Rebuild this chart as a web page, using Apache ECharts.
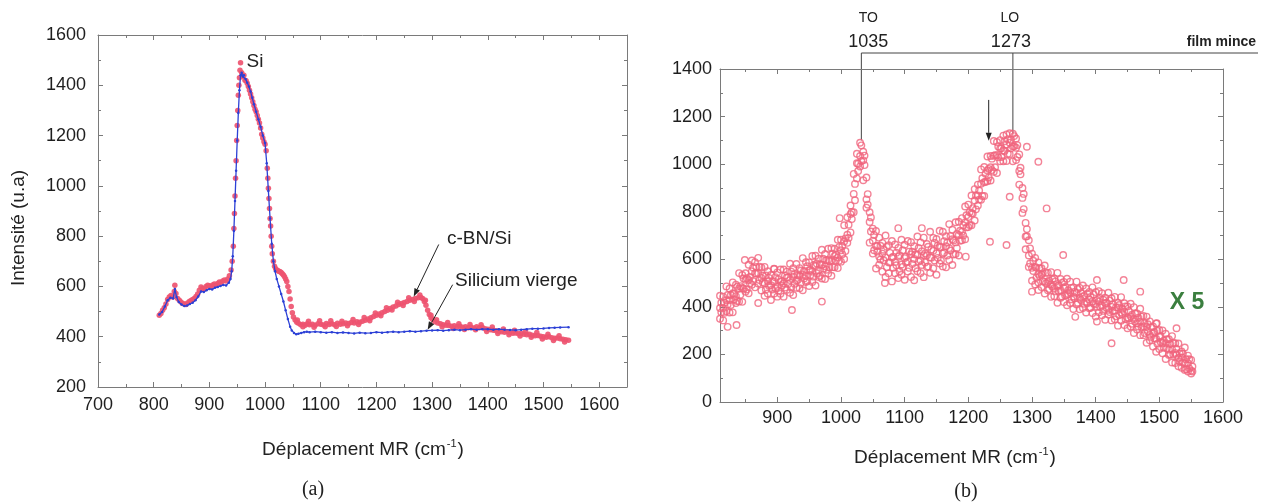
<!DOCTYPE html>
<html><head><meta charset="utf-8">
<script src="https://cdn.jsdelivr.net/npm/echarts@6/dist/echarts.min.js"></script>
<style>html,body{margin:0;padding:0;background:#fff}#c{width:1266px;height:504px}</style>
</head><body><div id="c"></div>
<script>
// ---------- (a) c-BN/Si (red dots) ----------
const xRed = [810,813,816,819,822,825,828,831,834,837,838,840,843,846,849,852,855,858,861,864,867,870,873,876,879,882,885,888,891,894,897,900,903,906,909,912,915,918,921,924,927,930,933,936,939,941,943,944,945,946,947,948,949,950,951,952,953,954,955,956,958,960,962,964,966,968,970,972,974,976,978,980,982,984,986,988,990,992,994,996,998,1000,1002,1004,1005,1006,1007,1008,1009,1010,1011,1012,1013,1015,1017,1019,1021,1023,1025,1027,1029,1031,1033,1035,1037,1039,1041,1043,1045,1047,1049,1051,1054,1057,1060,1064,1068,1072,1076,1080,1085,1090,1095,1100,1105,1110,1115,1120,1125,1130,1135,1140,1145,1150,1155,1160,1165,1170,1175,1180,1185,1190,1195,1200,1205,1210,1215,1220,1225,1230,1235,1240,1245,1250,1255,1260,1265,1270,1275,1280,1283,1286,1289,1292,1295,1298,1301,1305,1310,1315,1320,1325,1330,1335,1340,1345,1350,1355,1360,1365,1370,1375,1380,1385,1390,1395,1400,1405,1410,1415,1420,1425,1430,1435,1440,1445,1450,1455,1460,1465,1470,1475,1480,1485,1490,1495,1500,1505,1510,1515,1520,1525,1530,1535,1540,1545];
const yRed = [485,492,505,515,530,548,558,564,558,580,605,572,552,545,538,532,530,528,534,540,544,548,552,560,570,585,598,592,590,600,605,603,598,606,610,604,612,618,615,622,626,622,630,642,665,700,760,830,890,960,1030,1100,1180,1240,1300,1360,1400,1430,1460,1490,1450,1435,1440,1420,1418,1408,1395,1380,1365,1350,1335,1320,1305,1295,1280,1265,1250,1230,1205,1190,1175,1165,1140,1070,1030,990,950,910,870,840,800,760,730,700,680,670,665,662,660,658,655,650,645,638,630,620,600,580,550,520,495,478,466,458,454,448,450,446,452,448,450,446,452,450,447,453,449,452,448,454,450,452,455,453,457,455,460,458,462,465,470,475,480,485,490,495,500,505,512,518,522,528,532,536,540,545,548,552,555,556,552,540,525,505,488,475,468,460,455,452,448,446,445,442,444,440,442,438,440,436,438,435,440,436,438,432,430,428,426,424,422,420,418,420,416,414,415,412,414,410,408,410,406,404,405,402,400,398,400,396,394,395,392,390,388,386];
// second row of red dots where the c-BN/Si band is thick
const xRed2 = [1058,1068,1078,1088,1098,1108,1118,1128,1138,1148,1158,1168,1178,1188,1198,1208,1218,1228,1238,1248,1258,1268,1278,1288,1298,1308,1318,1328,1338,1348,1358,1368,1378,1388,1398,1408,1418,1428,1438,1448,1458,1468,1478,1488,1498,1508,1518,1528,1538];
const yRed2 = [466,440,462,438,463,440,463,441,462,444,468,449,476,463,494,483,515,506,537,524,555,540,566,545,485,467,440,457,433,452,429,449,428,448,421,439,413,431,408,426,403,421,398,417,391,410,385,404,379];

// ---------- (a) Silicium vierge (blue line) ----------
const xBlue = [810,815,820,825,830,835,838,841,845,850,855,860,865,870,875,880,885,890,895,900,905,910,915,920,925,930,935,938,940,942,944,946,948,950,952,954,956,958,960,962,965,968,971,974,977,980,984,988,992,996,1000,1003,1006,1009,1012,1015,1018,1021,1025,1029,1033,1037,1041,1045,1048,1052,1056,1060,1065,1070,1075,1080,1090,1100,1110,1120,1130,1140,1150,1160,1170,1180,1190,1200,1210,1220,1230,1240,1250,1260,1270,1280,1290,1300,1310,1320,1330,1340,1350,1360,1370,1380,1390,1400,1410,1420,1430,1440,1450,1460,1470,1480,1490,1500,1510,1520,1530,1545];
const yBlue = [488,498,520,545,555,552,590,558,538,528,522,524,530,535,545,560,580,578,585,590,588,595,598,602,606,604,615,630,660,720,820,940,1060,1180,1290,1380,1440,1450,1435,1440,1425,1410,1395,1375,1350,1325,1295,1265,1235,1200,1170,1090,980,870,770,700,660,630,600,570,540,505,470,440,425,415,410,412,415,418,420,418,420,418,416,418,415,417,415,413,416,414,415,418,416,418,420,418,420,422,420,422,424,425,426,424,426,428,426,428,430,428,430,430,428,430,428,427,426,428,430,432,432,433,435,436,437,438];

// ---------- (b) film mince (hollow circles; the scattered band read as five rows) ----------
const xB = [810,815,820,825,830,835,840,845,850,855,860,865,870,875,880,885,890,895,900,905,910,915,920,925,930,935,940,945,950,955,960,965,970,975,980,985,990,995,1000,1005,1010,1015,1020,1025,1030,1035,1040,1045,1050,1055,1060,1065,1070,1075,1080,1085,1090,1095,1100,1105,1110,1115,1120,1125,1130,1135,1140,1145,1150,1155,1160,1165,1170,1175,1180,1185,1190,1195,1200,1205,1210,1215,1220,1225,1230,1235,1240,1245,1250,1255,1260,1265,1270,1275,1280,1285,1290,1295,1300,1305,1310,1315,1320,1325,1330,1335,1340,1345,1350,1355,1360,1365,1370,1375,1380,1385,1390,1395,1400,1405,1410,1415,1420,1425,1430,1435,1440,1445,1450,1455,1460,1465,1470,1475,1480,1485,1490,1495,1500,1505,1510,1515,1520,1525,1530,1535,1540,1545,1550];
const xB2 = [812,817,822,827,832,837,842,847,852,857,862,867,872,877,882,887,892,897,902,907,912,917,922,927,932,937,942,947,952,957,962,967,972,977,982,987,992,997,1002,1007,1012,1017,1022,1027,1032,1037,1042,1047,1052,1057,1062,1067,1072,1077,1082,1087,1092,1097,1102,1107,1112,1117,1122,1127,1132,1137,1142,1147,1152,1157,1162,1167,1172,1177,1182,1187,1192,1197,1202,1207,1212,1217,1222,1227,1232,1237,1242,1247,1252,1257,1262,1267,1272,1277,1282,1287,1292,1297,1302,1307,1312,1317,1322,1327,1332,1337,1342,1347,1352,1357,1362,1367,1372,1377,1382,1387,1392,1397,1402,1407,1412,1417,1422,1427,1432,1437,1442,1447,1452,1457,1462,1467,1472,1477,1482,1487,1492,1497,1502,1507,1512,1517,1522,1527,1532,1537,1542,1547,1552];
const bandTop = [447,443,486,477,503,493,542,534,541,577,595,588,606,566,568,550,534,559,545,557,557,548,581,563,580,563,605,588,587,614,615,602,640,622,644,647,644,682,682,743,777,826,959,1044,1090,1052,944,798,729,719,691,669,700,659,677,662,648,682,661,677,672,655,696,671,691,664,716,690,685,720,716,697,748,724,756,758,773,822,830,868,895,914,978,988,1032,1034,1097,1093,1101,1120,1125,1130,1128,1108,1041,900,753,680,624,606,587,562,574,543,546,519,543,517,505,518,506,482,506,480,490,477,463,482,462,466,457,439,459,436,442,416,441,415,402,413,399,372,392,362,359,339,318,330,303,301,287,264,277,247,246,212,229,195,177];
const bandUpper = [417,417,450,450,454,485,487,519,520,526,565,568,569,532,532,522,507,525,516,509,532,525,548,538,533,553,551,571,556,576,582,578,602,596,593,624,620,651,655,688,745,799,917,1002,1079,1036,874,776,702,656,657,640,653,627,611,628,617,638,612,632,632,620,648,634,625,653,641,670,657,651,676,670,698,679,707,720,743,785,798,815,868,889,941,960,980,1023,1038,1074,1067,1096,1104,1103,1118,1080,985,875,727,646,594,565,563,542,543,511,516,507,491,501,484,470,480,464,475,458,446,455,442,452,429,437,430,416,427,411,398,408,392,402,383,367,372,354,359,331,327,314,294,299,277,258,264,244,248,224,204,203,180,180,149];
const bandMid = [395,395,428,428,457,445,477,479,514,513,549,541,541,522,498,508,491,507,485,505,498,524,513,527,511,531,535,530,554,548,572,553,577,571,598,595,614,607,638,675,703,790,875,1004,1034,1016,852,757,678,656,612,624,608,587,607,589,611,578,605,591,621,601,619,595,617,617,608,636,625,652,624,655,647,684,671,702,716,755,778,794,847,868,918,924,973,987,1035,1038,1066,1058,1083,1090,1074,1069,971,858,696,616,564,568,538,536,505,505,494,478,487,470,479,450,461,444,458,438,444,422,431,424,411,422,406,416,388,400,384,397,376,380,355,360,349,331,338,318,316,282,288,266,274,248,247,220,221,206,185,187,162,163,132];
const bandLower = [377,375,410,408,431,425,451,477,473,499,509,540,513,503,473,489,473,477,468,490,481,496,482,497,513,501,519,509,534,527,541,531,561,556,566,567,595,594,621,635,690,769,848,971,1013,996,830,717,638,632,599,596,567,586,564,575,550,568,586,564,580,562,591,576,587,570,606,595,606,595,628,616,637,620,647,678,700,734,744,792,810,851,866,926,944,975,987,1029,1030,1055,1044,1067,1075,1030,957,811,697,582,551,523,530,508,499,475,485,465,467,444,449,454,432,436,417,429,413,415,396,414,400,399,383,396,378,382,360,365,370,348,351,329,338,317,314,290,295,274,267,245,252,228,227,200,199,198,170,166,138,141,128];
const bandBottom = [350,343,382,376,377,416,422,421,464,457,493,482,498,469,447,456,429,456,443,455,443,472,459,450,480,478,470,504,488,505,490,526,519,517,540,531,566,563,590,601,669,713,798,940,990,932,817,670,624,561,577,548,526,541,507,541,521,535,514,549,526,512,550,542,525,568,543,562,535,582,570,566,597,576,622,616,680,684,736,743,763,826,850,866,928,931,968,963,1012,1012,1013,1042,1012,1017,914,795,642,568,510,494,502,483,456,470,442,445,417,438,420,407,416,391,410,390,395,376,394,374,359,377,365,346,368,343,348,321,342,324,310,317,290,305,281,281,249,260,233,211,223,205,181,198,166,164,150,144,135,128,120];
const outX = [807,822,836,849,870,895,923,970,998,1069,1090,1127,1196,1234,1260,1265,1292,1300,1310,1310,1323,1349,1368,1402,1402,1425,1444,1470,1496,1527];
const outY = [282,316,324,597,416,560,387,422,773,500,731,731,611,674,660,863,1073,464,471,1010,814,618,358,513,338,247,513,464,331,310];

// ---------- axis ranges / annotation values ----------
const axisA = {xMin:700, xMax:1650, xStep:100, yMin:200, yMax:1600, yStep:200};
const axisB = {xMin:810, xMax:1600, yMin:0, yMax:1400, yStep:200};
const peakTO = 1032, peakLO = 1270;

const SANS = '"Liberation Sans", Arial, sans-serif';
const pairs = (xs, ys) => xs.map((x, i) => [x, ys[i]]);

const chart = echarts.init(document.getElementById('c'), null, {renderer: 'canvas'});

const lineCol = '#7a7a7a';
const plain = v => String(v);
function axisCommon(grid, pos, rng) {
  return {
    type: 'value', gridIndex: grid, position: pos, min: rng.min, max: rng.max,
    axisLine: {show: true, onZero: false, lineStyle: {color: lineCol, width: 1}},
    axisTick: {show: true, inside: true, length: 5, lineStyle: {color: lineCol}},
    minorTick: {show: true, splitNumber: 2, length: 3, lineStyle: {color: lineCol}},
    splitLine: {show: false}, minorSplitLine: {show: false},
    axisLabel: {show: false}
  };
}
function lab(size, margin, extra) {
  return Object.assign({show: true, fontFamily: SANS, fontSize: size, color: '#1e1e1e', margin: margin, formatter: plain}, extra || {});
}

const rA = {min: axisA.xMin, max: axisA.xMax};
const rB = {min: axisB.xMin, max: axisB.xMax};
const yA = {min: axisA.yMin, max: axisA.yMax};
const yB = {min: axisB.yMin, max: axisB.yMax};

const bandData = [];
xB.forEach((x, i) => {
  bandData.push([x, bandTop[i]], [xB2[i], bandLower[i]], [x, bandMid[i]], [xB2[i], bandUpper[i]], [x, bandBottom[i]]);
});

const option = {
  animation: false,
  backgroundColor: '#ffffff',
  grid: [
    {left: 98, right: 1266 - 627, top: 35, bottom: 504 - 387},
    {left: 720, right: 1266 - 1223, top: 69, bottom: 504 - 402}
  ],
  xAxis: [
    Object.assign(axisCommon(0, 'bottom', rA), {interval: axisA.xStep, axisLabel: lab(18, 9, {showMaxLabel: false})}),
    Object.assign(axisCommon(0, 'top', rA), {interval: axisA.xStep}),
    Object.assign(axisCommon(1, 'bottom', rB), {splitNumber: 8, axisLabel: lab(18, 7, {showMinLabel: false})}),
    Object.assign(axisCommon(1, 'top', rB), {splitNumber: 8})
  ],
  yAxis: [
    Object.assign(axisCommon(0, 'left', yA), {interval: axisA.yStep, axisLabel: lab(18, 12)}),
    Object.assign(axisCommon(0, 'right', yA), {interval: axisA.yStep}),
    Object.assign(axisCommon(1, 'left', yB), {interval: axisB.yStep, axisLabel: lab(18, 8)}),
    Object.assign(axisCommon(1, 'right', yB), {interval: axisB.yStep})
  ],
  series: [
    {type: 'scatter', name: 'c-BN/Si', xAxisIndex: 0, yAxisIndex: 0, data: pairs(xRed, yRed).concat(pairs(xRed2, yRed2)),
     symbol: 'circle', symbolSize: 5.5, itemStyle: {color: '#ee5470', opacity: 0.92}, z: 2, silent: true},
    {type: 'line', name: 'Silicium vierge', xAxisIndex: 0, yAxisIndex: 0, data: pairs(xBlue, yBlue),
     symbol: 'circle', symbolSize: 2.5, showSymbol: true, lineStyle: {color: '#2c40d6', width: 1.3},
     itemStyle: {color: '#2c40d6'}, z: 3, silent: true},
    {type: 'scatter', name: 'film mince', xAxisIndex: 2, yAxisIndex: 2, data: bandData.concat(pairs(outX, outY)),
     symbol: 'circle', symbolSize: 6.5, itemStyle: {color: 'rgba(255,255,255,0)', borderColor: '#f0647d', borderWidth: 1.4}, silent: true}
  ]
};
chart.setOption(option);

// ---------- annotations ----------
const pA = v => chart.convertToPixel({gridIndex: 0}, v);
const pB = v => chart.convertToPixel({gridIndex: 1}, v);
const INK = '#222';

function text(x, y, t, font, extra) {
  return {type: 'text', x: x, y: y, silent: true, z: 100,
    style: Object.assign({text: t, font: font, fill: INK, align: 'center', verticalAlign: 'middle',
      textAlign: 'center', textVerticalAlign: 'middle'}, extra || {})};
}
function arrow(x1, y1, x2, y2, head, hw) {
  head = head || 7; hw = hw || 2.6;
  const a = Math.atan2(y2 - y1, x2 - x1);
  const bx = x2 - head * Math.cos(a), by = y2 - head * Math.sin(a);
  const px = -Math.sin(a) * hw, py = Math.cos(a) * hw;
  return [
    {type: 'line', silent: true, z: 100, shape: {x1: x1, y1: y1, x2: bx, y2: by}, style: {stroke: INK, lineWidth: 1}},
    {type: 'polygon', silent: true, z: 100, shape: {points: [[x2, y2], [bx + px, by + py], [bx - px, by - py]]}, style: {fill: INK}}
  ];
}
const titleRich = {
  a: {font: '19px ' + SANS, fill: INK, lineHeight: 24},
  s: {font: '11px ' + SANS, fill: INK, verticalAlign: 'top', lineHeight: 24, padding: [0, 1, 0, 1]}
};
const xTitle = '{a|Déplacement MR (cm}{s|-1}{a|)}';

const g = [];
// (a) panel
const siPk = pA([956, 1490]);
g.push(text(siPk[0] + 6, siPk[1] - 1, 'Si', '19px ' + SANS, {align: 'left', textAlign: 'left'}));
g.push(text(447, 239, 'c-BN/Si', '19px ' + SANS, {align: 'left', textAlign: 'left'}));
g.push(text(455, 281, 'Silicium vierge', '19px ' + SANS, {align: 'left', textAlign: 'left'}));
const tipC = pA([1267, 560]);
g.push(...arrow(tipC[0] + 25, tipC[1] - 52, tipC[0], tipC[1], 8, 3));
const tipS = pA([1292, 428]);
g.push(...arrow(tipS[0] + 25, tipS[1] - 45, tipS[0], tipS[1], 8, 3));
g.push(text(363, 450, xTitle, '19px ' + SANS, {rich: titleRich}));
g.push({type: 'text', x: 19, y: 228, rotation: Math.PI / 2, silent: true,
  style: {text: 'Intensité (u.a)', font: '19px ' + SANS, fill: INK, align: 'center', verticalAlign: 'middle', textAlign: 'center', textVerticalAlign: 'middle'}});
g.push(text(313, 490, '(a)', '20px "Liberation Serif", "Times New Roman", serif'));

// (b) panel
const toTop = pB([peakTO, 1100]);
const loTop = pB([peakLO, 1130]);
const yBar = 53;
g.push({type: 'line', silent: true, shape: {x1: toTop[0], y1: yBar, x2: toTop[0], y2: toTop[1]}, style: {stroke: '#444', lineWidth: 1}});
g.push({type: 'line', silent: true, shape: {x1: loTop[0], y1: yBar, x2: loTop[0], y2: loTop[1]}, style: {stroke: '#444', lineWidth: 1}});
g.push({type: 'line', silent: true, shape: {x1: toTop[0], y1: yBar, x2: 1258, y2: yBar}, style: {stroke: '#444', lineWidth: 1}});
g.push(text(toTop[0] + 7, 18, 'TO', '14px ' + SANS));
g.push(text(toTop[0] + 7, 42, '1035', '18px ' + SANS));
g.push(text(loTop[0] - 3, 18, 'LO', '14px ' + SANS));
g.push(text(loTop[0] - 2, 42, '1273', '18px ' + SANS));
g.push(text(1256, 42, 'film mince', 'bold 14px ' + SANS, {align: 'right', textAlign: 'right'}));
const arT = pB([1232, 1270]), arB = pB([1232, 1098]);
g.push(...arrow(arT[0], arT[1], arB[0], arB[1], 8, 3));
g.push(text(1187, 303, 'X 5', 'bold 23px ' + SANS, {fill: '#3b7f3f'}));
g.push(text(955, 458, xTitle, '19px ' + SANS, {rich: titleRich}));
g.push(text(966, 492, '(b)', '20px "Liberation Serif", "Times New Roman", serif'));

chart.setOption({graphic: {elements: g}});
</script>
</body></html>
